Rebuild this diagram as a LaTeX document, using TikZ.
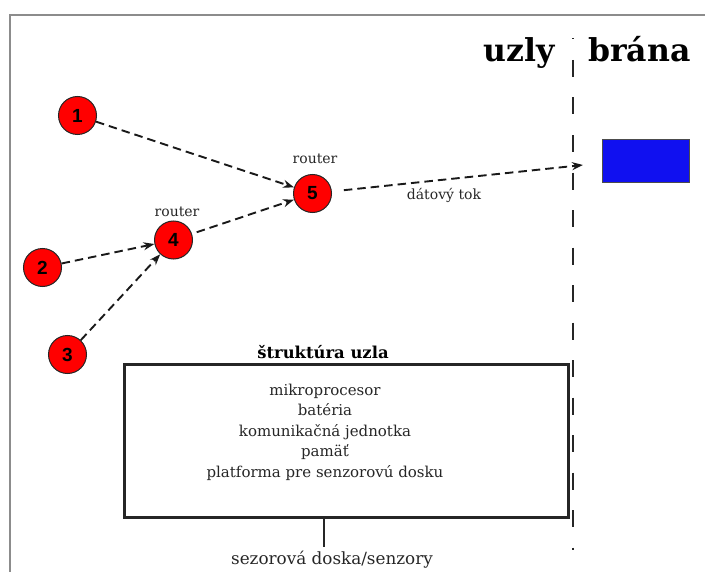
\documentclass[tikz,border=0pt]{standalone}
\usepackage{fontspec}
\setmainfont{DejaVu Serif}
\newfontfamily\numfont{Liberation Sans}
\usetikzlibrary{arrows.meta}

\begin{document}
\begin{tikzpicture}[x=1bp,y=-1bp,
  frameline/.style={draw=black!45, line width=1.5bp},
  divider/.style={draw=black!85, line width=2bp, dash pattern=on 17bp off 20.5bp, dash phase=15.5bp},
  sensor/.style={circle, draw=black!85, line width=1bp, fill=red, minimum size=38bp, inner sep=0pt,
    font=\numfont\bfseries\fontsize{19bp}{19bp}\selectfont},
  tag/.style={inner sep=1bp, text=black!85, font=\fontsize{14bp}{16bp}\selectfont},
  heading/.style={inner sep=0pt, font=\bfseries\fontsize{31.5bp}{33bp}\selectfont},
  flow/.style={draw=black!90, line width=1.9bp, dash pattern=on 8.5bp off 5bp,
    -{Stealth[length=11bp,width=8bp]}},
  gateway/.style={draw=black!70, line width=1bp, fill={rgb,255:red,16;green,16;blue,240},
    minimum width=87bp, minimum height=42bp, inner sep=0pt},
  structbox/.style={draw=black!85, line width=2.5bp, minimum width=444bp, minimum height=153bp,
    inner sep=0pt, anchor=north west},
]
\useasboundingbox (0,0) rectangle (705,572);

% outer frame and the nodes / gateway divider
\draw[frameline] (10,572) -- (10,15) -- (705,15);
\draw[divider] (573,38) -- (573,550);

\node[heading, anchor=base east] (hnodes) at (555,62) {uzly};
\node[heading, anchor=base west] (hgate) at (588,62) {brána};

% sensor nodes
\node[sensor] (n1) at (77.5,115.5) {1};
\node[sensor] (n2) at (42.5,267.5) {2};
\node[sensor] (n3) at (67.5,354.5) {3};
\node[sensor] (n4) at (173.5,240) {4};
\node[sensor] (n5) at (312.5,193.5) {5};
\node[tag] (r4) at (177,212) {router};
\node[tag] (r5) at (315,159) {router};

% gateway
\node[gateway] (gw) at (645.5,161) {};
\coordinate (gin) at (583,165);

% data flow
\draw[flow] (n1) -- (n5);
\draw[flow] (n2) -- (n4);
\draw[flow] (n3) -- (n4);
\draw[flow, shorten <=5bp] (n4) -- (n5);
\draw[flow, shorten <=12bp] (n5) -- (gin);
\node[tag] (dt) at (444,195) {dátový tok};

% node structure
\node[inner sep=0pt, font=\bfseries\fontsize{16.4bp}{18bp}\selectfont] (title) at (323,352) {štruktúra uzla};
\node[structbox] (box) at (123,363) {};
\node[tag, align=center, font=\fontsize{15bp}{20.5bp}\selectfont] (parts) at (325,432)
  {mikroprocesor\\batéria\\komunikačná jednotka\\pamäť\\platforma pre senzorovú dosku};
\coordinate (stemtop) at (324,516);
\node[tag, font=\fontsize{16.8bp}{18bp}\selectfont, inner sep=0pt] (board) at (332,560) {sezorová doska/senzory};
\draw[draw=black!85, line width=2.5bp, shorten >=4bp] (stemtop) -- (stemtop |- board.north);
\end{tikzpicture}
\end{document}
